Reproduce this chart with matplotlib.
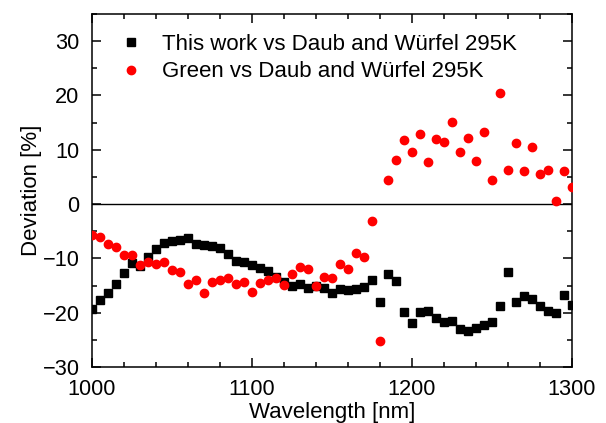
import numpy as np
import matplotlib
matplotlib.use("Agg")
import matplotlib.pyplot as plt
from matplotlib.ticker import MultipleLocator

plt.rcParams['font.family'] = ['Liberation Sans', 'DejaVu Sans']

# wavelength grid, 5 nm step
wavelength = list(range(1000, 1305, 5))

this_work = [-19.3, -17.6, -16.4, -14.8, -12.6, -10.9, -11.4, -9.7, -8.2, -7.2,
             -6.8, -6.6, -6.2, -7.4, -7.5, -7.7, -8.1, -9.2, -10.4, -10.7,
             -11.3, -11.8, -12.4, -13.5, -14.3, -15.0, -14.7, -15.4, -15.0, -15.5,
             -16.3, -15.7, -15.8, -15.6, -15.3, -13.9, -18.1, -12.8, -14.2, -19.9,
             -21.9, -19.9, -19.7, -21.0, -21.7, -21.5, -23.0, -23.4, -22.8, -22.2,
             -21.7, -18.7, -12.5, -18.1, -17.0, -17.4, -18.7, -19.6, -20.1, -16.7,
             -18.6]

green = [-5.7, -6.1, -7.3, -7.9, -9.3, -9.3, -11.2, -10.6, -11.0, -10.6,
         -12.2, -12.5, -14.7, -13.9, -16.3, -14.3, -14.0, -13.7, -14.8, -14.4,
         -16.2, -14.5, -14.0, -13.7, -14.9, -12.8, -11.5, -12.0, -15.0, -13.5,
         -13.6, -11.0, -12.0, -9.1, -9.8, -3.1, -25.2, 4.5, 8.2, 11.8,
         9.5, 12.9, 7.7, 11.9, 11.4, 15.2, 9.5, 12.1, 7.9, 13.3,
         4.4, 20.5, 6.2, 11.3, 6.0, 10.5, 5.5, 6.3, 0.6, 6.0,
         3.1]

fig = plt.figure(figsize=(6.06, 4.23), dpi=100)
ax = fig.add_axes([0.1518, 0.1324, 0.7921, 0.8345])

ax.axhline(0, color='black', linewidth=1.0, zorder=1)
ax.plot(wavelength, this_work, linestyle='none', marker='s', markersize=5.2,
        color='black', label='This work vs Daub and Würfel 295K', zorder=3)
ax.plot(wavelength, green, linestyle='none', marker='o', markersize=6.0,
        color='#ff0000', label='Green vs Daub and Würfel 295K', zorder=3)

ax.set_xlim(1000, 1300)
ax.set_ylim(-30, 35)
ax.xaxis.set_major_locator(MultipleLocator(100))
ax.xaxis.set_minor_locator(MultipleLocator(20))
ax.yaxis.set_major_locator(MultipleLocator(10))
ax.yaxis.set_minor_locator(MultipleLocator(5))
ax.tick_params(which='both', direction='in', top=True, right=True,
               labelsize=15.7, width=1.1)
ax.tick_params(which='major', length=6.5)
ax.tick_params(axis='x', which='major', pad=9)
ax.tick_params(axis='y', which='major', pad=9)
ax.tick_params(which='minor', length=3.3)
for s in ax.spines.values():
    s.set_linewidth(1.1)

ax.set_xlabel('Wavelength [nm]', fontsize=16, labelpad=1)
ax.set_ylabel('Deviation [%]', fontsize=16, labelpad=0.5)

ax.legend(loc='upper left', frameon=False, fontsize=16, handletextpad=0.8,
          borderaxespad=0.0, bbox_to_anchor=(0.035, 0.968), labelspacing=0.28,
          handlelength=1.2)

fig.savefig('out.png', dpi=100)
